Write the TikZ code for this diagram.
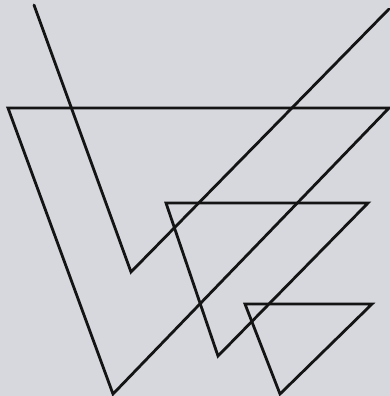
\documentclass[tikz,border=0pt]{standalone}
\definecolor{bg}{RGB}{214,216,221}
\definecolor{ink}{RGB}{20,20,20}
\tikzset{stroke/.style={draw=ink,line width=2.8pt,line join=miter,line cap=round}}
\begin{document}
\begin{tikzpicture}[x=1pt,y=-1pt]
\fill[bg] (0,0) rectangle (390,396);
\useasboundingbox (0,0) rectangle (390,396);
% open V
\coordinate (v1) at (34,5);
\coordinate (v2) at (131,272);
\coordinate (v3) at (389,9);
\draw[stroke] (v1) -- (v2) -- (v3);
% big triangle
\coordinate (a1) at (8,108);
\coordinate (a2) at (389,108);
\coordinate (a3) at (113,394);
\draw[stroke] (a1) -- (a2) -- (a3) -- cycle;
% medium triangle
\coordinate (b1) at (166,203);
\coordinate (b2) at (368,203);
\coordinate (b3) at (218,356);
\draw[stroke] (b1) -- (b2) -- (b3) -- cycle;
% small triangle
\coordinate (c1) at (245,304);
\coordinate (c2) at (372,304);
\coordinate (c3) at (280,394);
\draw[stroke] (c1) -- (c2) -- (c3) -- cycle;
\end{tikzpicture}
\end{document}
